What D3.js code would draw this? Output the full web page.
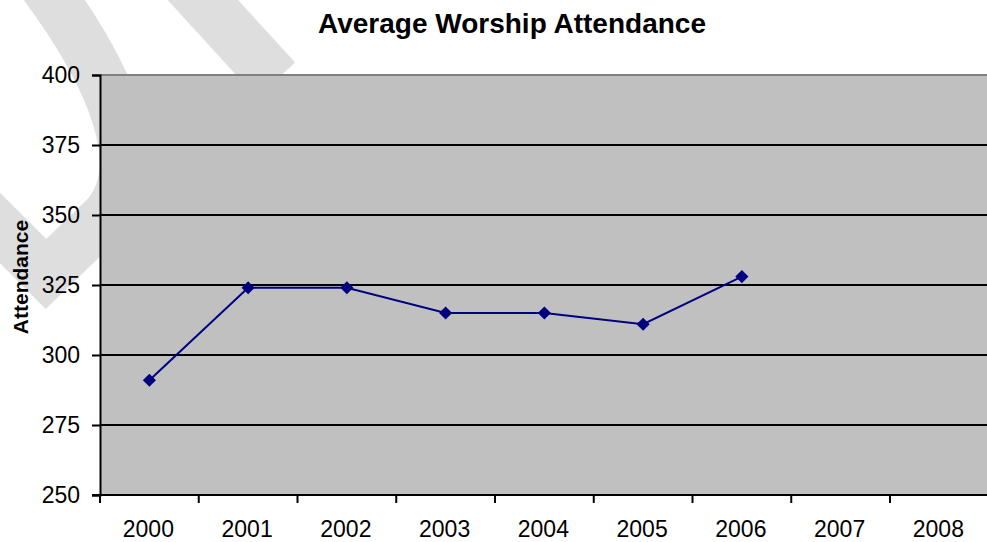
<!DOCTYPE html>
<html>
<head>
<meta charset="utf-8">
<script src="https://cdn.jsdelivr.net/npm/d3@7"></script>
<style>
  body { margin: 0; background: #fff; }
  svg { display: block; font-family: "Liberation Sans", Arial, sans-serif; }
</style>
</head>
<body>
<div id="chart"></div>
<script>
// chart data
var years = ["2000", "2001", "2002", "2003", "2004", "2005", "2006", "2007", "2008"];
var attendance = [291, 324, 324, 315, 315, 311, 328, null, null];
var yTicks = [250, 275, 300, 325, 350, 375, 400];
var chartTitle = "Average Worship Attendance";
var yTitle = "Attendance";

var width = 987, height = 542;
var plot = {left: 100, top: 75, right: 988.75, bottom: 495};

var svg = d3.select("#chart").append("svg")
  .attr("width", width)
  .attr("height", height);

// watermark swooshes behind the plot
var wm = svg.append("g").attr("fill", "none").attr("stroke", "#dedede");
wm.append("path")
  .attr("stroke-width", 50)
  .attr("stroke-linejoin", "miter")
  .attr("d", "M-20,208 L46,274 L104,218 C150,170 115,80 40,-20");
wm.append("path")
  .attr("stroke-width", 52)
  .attr("d", "M180,-25 L276,80");

var x = d3.scaleBand().domain(years).range([plot.left, plot.right]);
var y = d3.scaleLinear().domain([250, 400]).range([plot.bottom, plot.top]);

// plot area
svg.append("rect")
  .attr("x", plot.left).attr("y", plot.top)
  .attr("width", plot.right - plot.left).attr("height", plot.bottom - plot.top)
  .attr("fill", "#c0c0c0");

svg.append("line")
  .attr("x1", plot.left).attr("x2", plot.right)
  .attr("y1", plot.top).attr("y2", plot.top)
  .attr("stroke", "#808080").attr("stroke-width", 2);

// gridlines
svg.append("g").selectAll("line")
  .data(yTicks.filter(function(d) { return d > 250 && d < 400; }))
  .enter().append("line")
  .attr("x1", plot.left).attr("x2", plot.right)
  .attr("y1", function(d) { return y(d); })
  .attr("y2", function(d) { return y(d); })
  .attr("stroke", "#000").attr("stroke-width", 2);

// y axis
var yAxis = svg.append("g")
  .attr("transform", "translate(" + plot.left + ",0)")
  .call(d3.axisLeft(y).tickValues(yTicks).tickSize(8).tickPadding(12));
yAxis.select(".domain").attr("stroke", "#000").attr("stroke-width", 2);
yAxis.selectAll(".tick line").attr("stroke", "#000").attr("stroke-width", 2);
yAxis.selectAll(".tick text")
  .attr("font-size", "23px").attr("font-family", "Liberation Sans, Arial, sans-serif")
  .attr("fill", "#000");

// x axis, ticks between categories
var xAxis = svg.append("g")
  .attr("transform", "translate(0," + plot.bottom + ")");
xAxis.append("line")
  .attr("x1", plot.left - 8).attr("x2", plot.right)
  .attr("stroke", "#000").attr("stroke-width", 2);
xAxis.selectAll(".xtick")
  .data(years)
  .enter().append("line")
  .attr("class", "xtick")
  .attr("x1", function(d) { return x(d); })
  .attr("x2", function(d) { return x(d); })
  .attr("y1", 0).attr("y2", 8)
  .attr("stroke", "#000").attr("stroke-width", 2);
xAxis.selectAll(".xlabel")
  .data(years)
  .enter().append("text")
  .attr("class", "xlabel")
  .attr("x", function(d) { return x(d) + x.bandwidth() / 2 - 1; })
  .attr("y", 42)
  .attr("text-anchor", "middle")
  .attr("font-size", "23px")
  .text(function(d) { return d; });

// series
var pts = years.map(function(d, i) { return {year: d, value: attendance[i]}; })
  .filter(function(d) { return d.value != null; });

var line = d3.line()
  .x(function(d) { return x(d.year) + x.bandwidth() / 2; })
  .y(function(d) { return y(d.value); });

svg.append("path")
  .datum(pts)
  .attr("d", line)
  .attr("fill", "none")
  .attr("stroke", "#000080")
  .attr("stroke-width", 2);

svg.append("g").selectAll("path")
  .data(pts)
  .enter().append("path")
  .attr("d", d3.symbol().type(d3.symbolDiamond2).size(110))
  .attr("transform", function(d) {
    return "translate(" + (x(d.year) + x.bandwidth() / 2) + "," + y(d.value) + ")";
  })
  .attr("fill", "#000080");

// titles
svg.append("text")
  .attr("x", 512).attr("y", 33)
  .attr("text-anchor", "middle")
  .attr("font-size", "28px").attr("font-weight", "bold")
  .text(chartTitle);

svg.append("text")
  .attr("transform", "translate(28,277) rotate(-90)")
  .attr("text-anchor", "middle")
  .attr("font-size", "21px").attr("font-weight", "bold")
  .text(yTitle);
</script>
</body>
</html>
